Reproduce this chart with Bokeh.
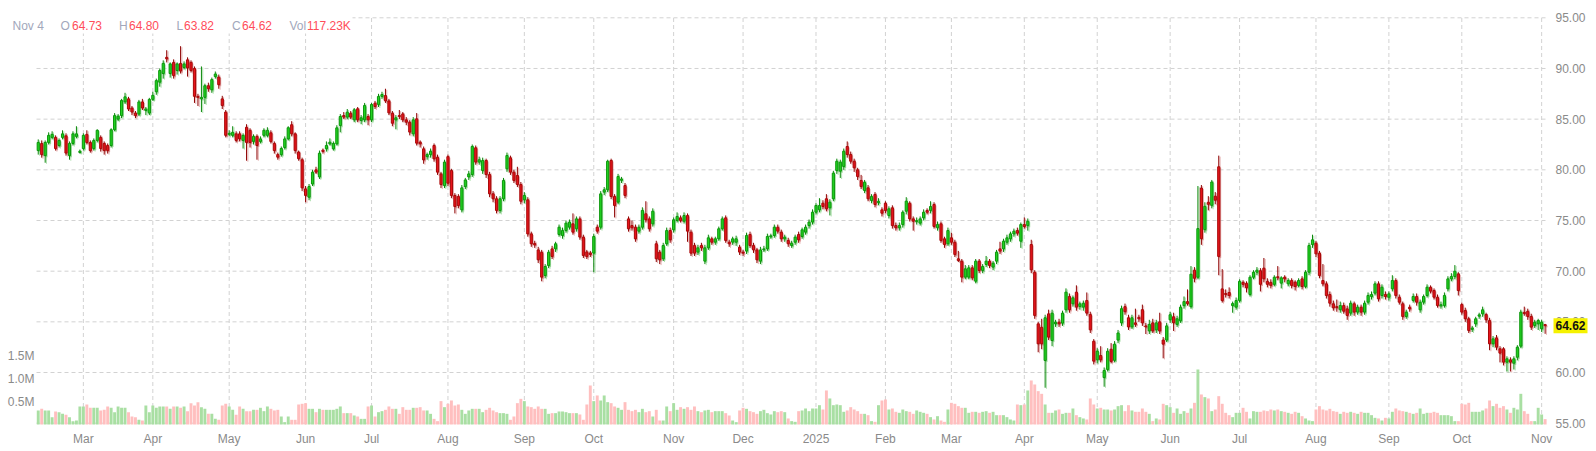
import pandas as pd
from bokeh.plotting import figure
from bokeh.models import ColumnDataSource, Range1d
from bokeh.core.properties import value
from bokeh.embed import file_html
from bokeh.resources import INLINE

FONT = "Liberation Sans"

holidays = ["2024-02-19", "2024-03-29", "2024-05-27", "2024-06-19", "2024-07-04", "2024-09-02",
            "2024-11-28", "2024-12-25", "2025-01-01", "2025-01-09", "2025-01-20", "2025-02-17",
            "2025-04-18", "2025-05-26", "2025-06-19", "2025-07-04", "2025-09-01"]
dates = [d for d in pd.bdate_range("2024-02-12", "2025-11-04") if d.strftime("%Y-%m-%d") not in holidays]

opens = [
    81.9, 82.6, 81.4, 82.7, 83.2, 83.2, 82.4, 83.2, 83.35, 81.4,
    82.6, 83.3, 81.75, 82.1, 83.5, 82.7, 82.1, 82.9, 83.2, 82.6,
    82.4, 82.4, 83.95, 85.0, 85.35, 86.7, 87.0, 86.1, 85.6, 85.5,
    86.7, 85.85, 85.6, 86.95, 87.7, 88.65, 89.5, 91.1, 89.5, 90.6,
    89.8, 90.5, 90.1, 90.85, 90.6, 90.0, 87.25, 87.0, 87.15, 88.3,
    87.9, 89.2, 89.15, 87.0, 85.7, 83.5, 83.4, 83.55, 83.55, 82.9,
    84.2, 83.9, 82.8, 83.3, 82.8, 83.4, 83.4, 83.65, 82.6, 81.5,
    81.5, 82.2, 83.05, 84.45, 83.55, 81.75, 80.99, 78.12, 77.3, 78.6,
    80.0, 79.3, 81.9, 82.07, 82.56, 82.07, 82.56, 84.37, 85.36, 85.2,
    85.59, 84.93, 86.02, 84.87, 84.93, 85.26, 84.93, 86.58, 86.45, 87.24,
    87.33, 86.8, 85.59, 84.93, 85.36, 85.52, 84.93, 84.7, 83.55, 85.03,
    82.73, 82.07, 81.3, 81.5, 82.4, 81.25, 79.6, 78.45, 81.3, 79.93,
    77.47, 77.37, 76.05, 78.35, 79.3, 79.54, 82.17, 80.76, 79.93, 80.92,
    79.54, 77.63, 77.14, 75.99, 77.14, 80.1, 81.18, 79.77, 79.44, 78.55,
    77.04, 77.04, 73.68, 72.7, 72.1, 71.87, 69.57, 70.56, 72.2, 72.2,
    73.62, 73.52, 74.01, 74.34, 74.67, 74.18, 75.16, 73.36, 71.9, 71.8,
    71.78, 74.34, 74.34, 77.8, 78.03, 80.92, 77.37, 76.81, 79.0, 78.45,
    75.16, 74.5, 74.34, 73.95, 74.34, 75.66, 75.16, 74.67, 72.7, 71.88,
    71.22, 72.7, 74.01, 74.08, 75.0, 75.26, 74.93, 75.49, 73.85, 72.53,
    71.88, 72.53, 70.99, 72.3, 73.19, 72.86, 73.19, 74.18, 75.26, 72.86,
    72.86, 72.86, 72.37, 71.88, 71.98, 73.62, 72.53, 72.1, 70.99, 72.1,
    72.2, 73.42, 73.52, 74.34, 73.85, 73.19, 73.03, 72.53, 72.86, 73.62,
    73.42, 73.85, 74.5, 74.84, 75.82, 76.05, 76.71, 77.14, 76.25, 77.14,
    79.93, 79.87, 80.33, 82.3, 81.51, 80.85, 80.0, 78.95, 77.96, 78.22,
    76.97, 77.57, 76.8, 76.05, 76.71, 75.49, 76.25, 74.5, 74.28, 74.6,
    75.92, 76.71, 75.16, 74.93, 74.74, 75.26, 75.99, 75.99, 76.58, 74.28,
    74.67, 73.19, 72.7, 73.29, 72.86, 71.22, 70.99, 69.41, 69.41, 70.33,
    69.01, 70.99, 70.07, 70.66, 70.99, 70.4, 70.99, 72.2, 72.2, 72.86,
    73.19, 73.68, 74.01, 72.96, 74.6, 74.5, 72.63, 69.9, 64.8, 64.47,
    61.19, 65.79, 63.16, 64.8, 64.97, 64.87, 66.19, 67.5, 66.78, 67.93,
    66.52, 66.45, 67.11, 65.72, 63.09, 61.25, 61.68, 59.5, 60.3, 62.3,
    61.2, 63.2, 64.9, 66.5, 65.4, 64.5, 64.9, 65.45, 66.2, 64.6,
    64.1, 64.9, 64.2, 65.0, 63.2, 63.2, 65.2, 65.5, 64.75, 65.1,
    66.6, 67.0, 66.5, 70.1, 69.4, 78.2, 74.1, 76.8, 76.5, 77.4,
    80.3, 68.25, 67.8, 67.9, 66.6, 66.45, 67.1, 68.9, 68.8, 67.7,
    69.4, 69.9, 70.05, 70.3, 69.0, 68.9, 68.7, 69.45, 68.82, 69.41,
    68.75, 69.08, 68.92, 68.59, 69.24, 68.49, 69.9, 72.63, 72.76, 71.78,
    69.08, 68.75, 67.7, 66.78, 66.5, 66.19, 66.61, 66.28, 65.86, 66.78,
    65.96, 66.45, 65.96, 66.94, 67.5, 67.83, 68.75, 67.6, 67.7, 67.43,
    68.26, 69.08, 67.43, 66.78, 65.53, 66.45, 67.11, 67.5, 66.19, 66.94,
    67.6, 68.42, 68.09, 67.43, 66.61, 66.61, 68.26, 69.24, 69.47, 69.73,
    66.71, 66.12, 65.3, 64.3, 64.8, 65.6, 65.79, 65.72, 65.13, 62.83,
    63.42, 62.34, 62.34, 61.02, 61.25, 60.92, 61.51, 62.6, 65.9, 66.05,
    65.53, 64.64, 64.8, 64.31, 64.73]

highs = [
    83.0, 82.9, 82.9, 83.7, 83.8, 83.4, 83.1, 83.9, 83.6, 82.8,
    83.8, 84.3, 82.0, 83.6, 83.9, 82.9, 83.1, 84.0, 83.4, 82.8,
    82.6, 84.1, 85.6, 85.5, 87.0, 87.6, 87.2, 86.3, 85.8, 86.9,
    87.0, 86.2, 87.1, 87.7, 89.0, 90.0, 90.8, 91.8, 90.6, 90.9,
    90.6, 92.2, 90.7, 91.1, 90.8, 90.2, 87.5, 90.2, 88.5, 88.6,
    89.1, 89.7, 89.4, 87.3, 85.9, 83.9, 84.3, 83.8, 83.8, 83.6,
    84.5, 84.1, 83.5, 83.5, 83.3, 84.1, 84.2, 83.9, 82.8, 81.7,
    82.3, 83.3, 84.3, 84.8, 83.7, 81.9, 81.2, 78.4, 78.6, 80.0,
    80.3, 81.9, 82.1, 82.8, 83.1, 82.8, 84.4, 85.5, 85.7, 86.0,
    85.8, 86.1, 86.2, 85.4, 86.6, 85.5, 86.6, 86.8, 87.5, 87.7,
    88.0, 87.0, 85.8, 85.4, 85.9, 85.7, 85.2, 84.9, 85.2, 85.6,
    82.9, 82.3, 81.7, 82.1, 82.6, 81.5, 79.8, 81.0, 81.5, 80.1,
    77.7, 77.6, 78.5, 79.2, 79.9, 82.5, 82.4, 81.3, 81.2, 81.1,
    79.8, 77.9, 77.4, 77.4, 79.2, 81.7, 81.4, 80.0, 80.3, 78.8,
    77.8, 77.3, 73.9, 73.0, 72.4, 72.1, 70.7, 72.1, 72.5, 72.9,
    74.6, 74.3, 75.0, 75.1, 75.7, 75.4, 75.4, 73.6, 72.1, 72.0,
    73.7, 74.6, 77.9, 78.3, 81.0, 81.1, 77.6, 79.6, 79.3, 78.7,
    75.4, 75.0, 74.6, 74.6, 76.3, 76.9, 75.4, 76.2, 73.0, 72.1,
    72.8, 74.3, 74.3, 75.3, 75.8, 75.5, 75.8, 75.7, 74.1, 72.8,
    72.6, 72.8, 72.6, 73.6, 73.4, 73.4, 74.4, 75.4, 75.5, 73.1,
    73.4, 73.5, 72.6, 72.1, 73.8, 73.9, 72.8, 72.3, 72.4, 72.5,
    73.7, 73.7, 74.6, 74.6, 74.1, 73.6, 73.3, 73.0, 73.6, 73.9,
    74.3, 74.6, 75.1, 76.1, 76.7, 77.2, 77.0, 77.6, 77.1, 79.9,
    81.1, 81.0, 82.1, 82.8, 81.8, 81.1, 80.2, 79.5, 79.0, 78.5,
    77.6, 77.8, 77.2, 76.3, 76.9, 76.4, 76.5, 74.8, 74.8, 76.0,
    77.3, 76.9, 75.4, 75.3, 75.4, 76.1, 76.2, 76.9, 76.8, 74.9,
    74.9, 73.4, 74.3, 73.8, 73.1, 72.0, 71.2, 70.6, 70.6, 70.6,
    71.2, 71.2, 70.7, 71.5, 71.2, 71.0, 72.1, 72.9, 73.2, 73.6,
    73.9, 74.2, 74.3, 74.8, 75.3, 75.2, 73.1, 70.1, 65.0, 65.3,
    65.7, 66.2, 66.2, 65.2, 65.3, 66.1, 68.3, 67.8, 67.6, 68.6,
    67.0, 67.1, 67.9, 66.0, 63.3, 62.4, 62.6, 60.5, 62.4, 62.9,
    63.1, 64.2, 66.6, 66.8, 65.7, 65.7, 66.3, 65.7, 66.7, 64.9,
    65.2, 65.3, 65.2, 65.9, 63.5, 64.9, 66.0, 65.9, 65.6, 66.7,
    67.5, 68.2, 70.5, 70.4, 78.4, 78.5, 76.8, 77.4, 79.0, 77.8,
    81.4, 70.2, 68.2, 68.4, 67.0, 67.4, 69.2, 69.1, 69.0, 69.6,
    70.1, 70.4, 70.3, 71.3, 69.3, 69.2, 69.6, 70.5, 69.5, 69.6,
    69.3, 69.3, 69.1, 69.3, 69.5, 70.1, 72.8, 73.6, 73.0, 72.0,
    70.7, 69.0, 68.0, 67.1, 67.2, 67.0, 66.9, 66.6, 67.1, 67.0,
    66.7, 66.7, 67.1, 67.9, 68.0, 69.0, 69.0, 68.7, 68.0, 68.0,
    69.6, 69.3, 67.7, 67.0, 66.2, 66.7, 67.8, 67.8, 67.2, 67.7,
    68.7, 68.6, 68.3, 67.7, 67.0, 67.9, 69.5, 69.8, 70.6, 69.9,
    66.9, 66.4, 65.5, 64.6, 65.5, 65.9, 66.5, 65.9, 65.4, 63.6,
    63.7, 62.6, 62.5, 61.6, 61.5, 61.6, 62.7, 66.2, 66.5, 66.3,
    65.8, 65.2, 65.3, 65.2, 64.8]

lows = [
    81.5, 81.2, 80.7, 82.5, 83.0, 81.9, 82.2, 83.0, 81.4, 81.0,
    82.4, 83.1, 81.6, 81.9, 82.5, 81.7, 81.9, 82.7, 81.8, 81.5,
    81.6, 82.2, 83.8, 84.8, 85.1, 86.5, 85.8, 85.4, 85.1, 85.3,
    85.9, 85.4, 85.4, 86.8, 87.4, 88.2, 89.0, 90.6, 89.1, 89.0,
    89.4, 89.5, 89.9, 89.2, 89.6, 86.6, 86.3, 85.7, 86.5, 87.7,
    87.6, 89.0, 88.0, 86.0, 83.2, 83.3, 83.2, 82.7, 82.8, 82.1,
    80.9, 82.2, 82.5, 81.0, 82.6, 83.2, 83.2, 82.6, 81.6, 81.0,
    81.3, 82.0, 82.9, 83.3, 81.6, 80.9, 77.9, 76.8, 77.0, 78.4,
    79.6, 79.1, 81.6, 81.8, 82.4, 81.9, 82.4, 83.7, 85.0, 85.0,
    85.0, 84.7, 84.7, 84.5, 84.7, 84.4, 84.7, 86.0, 86.2, 87.0,
    86.6, 85.4, 84.3, 84.0, 85.0, 84.7, 84.4, 83.4, 83.3, 82.4,
    82.2, 80.6, 81.0, 81.2, 80.8, 79.5, 78.2, 78.2, 78.4, 77.2,
    75.7, 76.2, 75.8, 78.1, 79.0, 79.3, 80.5, 80.5, 79.6, 79.2,
    77.3, 76.8, 75.7, 75.7, 76.9, 79.8, 79.5, 78.7, 78.3, 76.6,
    76.7, 73.4, 72.4, 72.3, 70.8, 69.0, 69.3, 70.3, 71.2, 71.9,
    73.4, 73.2, 73.8, 74.1, 73.6, 73.9, 73.1, 71.3, 71.2, 71.4,
    69.9, 73.7, 74.1, 77.5, 77.8, 77.1, 75.3, 76.6, 78.7, 77.2,
    73.9, 74.0, 72.9, 73.7, 74.1, 74.8, 73.9, 74.4, 70.9, 70.7,
    71.0, 72.5, 72.8, 73.8, 74.8, 74.8, 74.7, 72.9, 71.5, 71.5,
    71.6, 72.0, 70.7, 72.1, 72.6, 72.6, 73.0, 74.0, 72.8, 72.4,
    72.6, 72.5, 71.6, 71.5, 71.7, 72.3, 71.8, 70.8, 70.7, 71.9,
    72.0, 73.2, 73.3, 73.7, 72.9, 72.9, 72.4, 72.3, 72.6, 72.8,
    73.2, 73.6, 74.2, 74.6, 75.6, 75.8, 76.1, 75.9, 75.5, 76.9,
    79.6, 79.2, 80.0, 81.2, 80.6, 79.8, 79.0, 78.1, 77.7, 76.9,
    76.7, 76.3, 76.5, 75.4, 75.7, 75.2, 74.2, 74.0, 74.0, 74.3,
    75.6, 74.9, 74.0, 74.6, 74.5, 75.0, 75.6, 75.7, 74.2, 74.0,
    72.8, 72.3, 72.5, 72.6, 71.4, 70.9, 68.9, 69.2, 69.2, 69.1,
    68.8, 69.8, 69.8, 70.4, 70.3, 70.1, 70.7, 71.7, 71.9, 72.6,
    72.9, 73.4, 73.5, 72.3, 74.2, 74.0, 69.8, 65.3, 62.0, 62.3,
    58.5, 63.2, 62.6, 64.5, 64.5, 64.6, 65.9, 65.9, 66.5, 66.1,
    66.2, 66.1, 65.6, 63.9, 60.8, 60.9, 61.0, 58.6, 60.1, 60.9,
    61.0, 62.9, 64.6, 65.7, 64.2, 64.3, 64.5, 65.0, 64.6, 63.8,
    63.8, 63.9, 63.9, 63.8, 61.4, 63.0, 64.9, 64.1, 64.5, 64.9,
    66.3, 66.6, 66.3, 68.9, 69.2, 72.6, 73.8, 76.0, 76.2, 76.6,
    69.6, 66.9, 67.4, 67.3, 65.9, 66.2, 66.9, 68.4, 67.9, 67.5,
    69.2, 69.6, 68.0, 68.9, 68.4, 68.3, 68.5, 69.1, 68.3, 68.9,
    68.5, 68.3, 68.1, 68.4, 68.2, 68.3, 69.6, 72.3, 71.4, 69.3,
    68.5, 67.3, 66.5, 66.1, 66.0, 65.9, 65.8, 65.2, 65.6, 65.6,
    65.7, 65.6, 65.7, 66.7, 67.2, 67.6, 67.0, 67.3, 67.2, 67.1,
    68.0, 67.3, 66.7, 65.2, 65.3, 66.0, 66.9, 66.6, 65.9, 66.7,
    67.4, 67.8, 67.2, 66.4, 66.3, 66.4, 68.0, 69.0, 69.2, 67.6,
    65.7, 65.0, 63.9, 64.0, 64.5, 65.3, 65.5, 64.9, 62.2, 62.5,
    62.2, 61.0, 60.7, 60.1, 60.1, 60.3, 61.2, 62.4, 65.6, 65.2,
    64.2, 64.4, 64.2, 64.0, 63.82]

closes = [
    82.7, 81.5, 82.7, 83.4, 83.5, 82.1, 82.9, 83.55, 81.65, 82.6,
    83.55, 83.55, 81.8, 83.4, 82.7, 81.9, 82.9, 83.9, 82.1, 81.9,
    81.9, 83.95, 85.35, 85.3, 86.85, 87.2, 86.0, 85.7, 85.35, 86.7,
    86.1, 86.0, 86.95, 87.35, 88.8, 89.8, 90.5, 90.95, 90.45, 89.3,
    90.45, 89.75, 90.45, 90.05, 89.8, 87.25, 87.15, 87.15, 88.3, 88.0,
    88.9, 89.45, 88.4, 86.35, 83.4, 83.6, 83.7, 82.9, 83.05, 83.4,
    82.7, 82.7, 83.3, 82.4, 83.05, 83.9, 83.9, 82.8, 81.9, 81.25,
    82.1, 83.05, 84.15, 83.55, 81.9, 81.1, 78.22, 77.47, 78.35, 79.77,
    79.77, 81.64, 81.85, 82.4, 82.73, 82.6, 84.14, 85.26, 85.2, 85.69,
    85.2, 85.92, 84.93, 85.13, 86.35, 84.93, 86.45, 86.25, 87.24, 87.43,
    86.8, 85.62, 84.6, 85.13, 85.26, 84.93, 84.7, 83.72, 84.93, 82.63,
    82.56, 80.98, 81.5, 81.84, 81.08, 79.77, 78.55, 80.76, 78.68, 77.47,
    76.38, 76.48, 78.22, 79.0, 79.6, 82.3, 80.76, 80.99, 80.92, 79.54,
    77.63, 77.14, 75.99, 77.14, 78.95, 81.41, 79.77, 78.95, 78.55, 76.9,
    77.47, 73.68, 72.7, 72.63, 71.12, 69.41, 70.46, 71.87, 71.45, 72.7,
    74.34, 74.01, 74.74, 74.84, 73.85, 75.16, 73.36, 71.55, 71.45, 71.65,
    73.42, 73.95, 77.63, 78.03, 80.85, 77.37, 76.48, 79.34, 79.05, 77.47,
    74.18, 74.28, 73.19, 74.34, 75.99, 75.07, 74.18, 75.92, 71.22, 71.12,
    72.53, 74.01, 73.09, 75.07, 75.4, 75.0, 75.49, 73.95, 71.78, 71.78,
    72.3, 72.3, 72.3, 73.29, 72.86, 73.19, 74.18, 75.16, 73.03, 72.7,
    73.19, 73.19, 71.88, 71.78, 73.52, 72.53, 72.1, 71.12, 72.1, 72.2,
    73.42, 73.45, 74.34, 73.95, 73.19, 73.36, 72.7, 72.76, 73.36, 73.09,
    74.08, 74.34, 74.84, 75.82, 76.48, 76.48, 76.38, 76.15, 76.81, 79.67,
    80.85, 80.76, 81.84, 81.51, 80.85, 80.2, 79.34, 78.35, 78.78, 77.14,
    77.37, 76.58, 76.85, 75.72, 75.99, 76.15, 74.5, 74.28, 74.5, 75.82,
    76.91, 75.16, 74.93, 74.95, 75.16, 75.82, 75.82, 76.38, 74.41, 74.6,
    73.03, 72.63, 74.01, 72.86, 71.65, 71.05, 69.41, 70.23, 70.33, 69.34,
    70.99, 70.07, 70.46, 70.99, 70.56, 70.79, 71.88, 71.98, 72.96, 73.29,
    73.68, 73.95, 73.75, 74.6, 74.41, 74.93, 70.13, 65.63, 62.83, 62.83,
    65.4, 63.49, 65.86, 64.97, 64.8, 65.86, 67.93, 66.19, 67.37, 66.45,
    66.78, 66.84, 65.86, 64.21, 61.12, 62.11, 61.25, 60.2, 62.1, 61.1,
    62.8, 63.9, 66.3, 66.0, 64.5, 65.4, 64.75, 65.3, 64.9, 64.5,
    64.75, 64.1, 64.9, 64.1, 62.8, 64.6, 65.7, 64.9, 65.3, 66.45,
    67.0, 66.8, 69.7, 69.3, 74.2, 73.2, 76.4, 76.6, 78.8, 77.0,
    71.45, 67.1, 67.7, 67.6, 66.8, 67.1, 69.0, 68.7, 68.35, 69.4,
    69.9, 70.1, 68.7, 69.25, 68.7, 68.6, 69.4, 69.35, 69.34, 69.24,
    69.08, 68.59, 68.49, 69.08, 68.49, 69.9, 72.53, 73.09, 71.71, 69.57,
    68.75, 67.6, 66.84, 66.38, 66.4, 66.61, 66.05, 65.63, 66.84, 65.96,
    66.45, 65.96, 66.84, 67.6, 67.7, 68.75, 67.27, 68.42, 67.5, 67.76,
    69.08, 67.6, 66.94, 65.53, 65.96, 66.28, 67.5, 66.94, 66.94, 67.5,
    68.42, 68.03, 67.43, 66.61, 66.65, 67.6, 69.24, 69.47, 70.0, 68.09,
    65.96, 65.3, 64.15, 64.35, 65.3, 65.65, 66.19, 65.2, 62.83, 63.32,
    62.5, 61.91, 61.02, 61.35, 61.02, 61.35, 62.5, 65.96, 65.85, 65.53,
    64.48, 64.97, 65.13, 64.97, 64.62]

volume_k = [
    305, 341, 305, 305, 160, 283, 268, 232, 210, 160,
    73, 87, 392, 392, 435, 363, 363, 363, 305,
    319, 392, 363, 268, 392, 363, 363, 268, 174, 160,
    102, 87, 413, 268, 413, 363, 392, 392, 392, 341,
    392, 392, 363, 392, 290, 464, 413, 486, 377, 341,
    232, 232, 123, 102, 413, 450, 392, 319, 210,
    392, 341, 290, 290, 319, 319, 363, 290, 392, 341,
    305, 319, 174, 51, 174, 102, 102, 435, 450, 464,
    341, 341, 268, 341, 319, 319, 319, 319, 341, 392,
    247, 247, 247, 196, 174, 123, 123, 392, 413,
    174, 268, 290, 319, 392, 341, 341, 232, 377, 319,
    319, 363, 363, 377, 305, 305, 232, 123, 73, 508,
    377, 450, 522, 413, 435, 319, 232, 305, 341, 341,
    341, 268, 319, 363, 305, 268, 247, 247, 232,
    102, 174, 464, 558, 508, 392, 377, 341, 392, 341,
    341, 232, 247, 247, 283, 283, 268, 247, 247, 247,
    218, 102, 435, 848, 508, 631, 522, 631, 486, 464,
    392, 363, 319, 486, 319, 290, 319, 268, 341, 268,
    290, 174, 319, 87, 87, 392, 290, 464, 319, 377,
    341, 377, 319, 392, 290, 268, 305, 319, 268, 290,
    290, 290, 247, 196, 87, 51, 305, 363, 341,
    290, 268, 232, 290, 319, 247, 218, 290, 268, 290, 268,
    131, 73, 58, 290, 305, 348, 290, 348, 348, 420,
    326, 740, 566, 420, 435, 420, 276, 305, 377, 326,
    290, 232, 232, 203, 73, 58, 420, 522, 544, 326,
    348, 276, 254, 326, 290, 276, 232, 305, 276, 254,
    232, 160, 109, 181, 87, 58, 326, 471, 450, 399,
    363, 363, 254, 276, 276, 254, 276, 290, 254, 276,
    203, 203, 203, 160, 109, 87, 435, 420, 435, 740,
    957, 870, 725, 667, 435, 254, 254, 305, 326, 232,
    254, 254, 348, 203, 160, 131, 109, 566, 435, 348,
    363, 326, 326, 305, 326, 399, 420, 290, 420, 305,
    276, 276, 348, 276, 232, 73, 131, 109, 450, 420,
    377, 254, 348, 232, 290, 254, 348, 471, 1196, 653,
    595, 566, 290, 326, 616, 450, 254, 203, 160, 254,
    254, 363, 276, 131, 290, 276, 276, 305, 290, 326,
    305, 326, 290, 276, 254, 232, 276, 254, 181, 131,
    87, 73, 326, 399, 326, 305, 341, 290, 276, 232,
    276, 254, 276, 254, 232, 276, 254, 254, 203, 145,
    131, 87, 145, 131, 276, 348, 305, 290, 276, 254,
    232, 254, 348, 232, 254, 254, 276, 254, 203, 203,
    203, 181, 73, 73, 450, 435, 471, 276, 276, 276,
    305, 348, 522, 399, 450, 363, 399, 326, 254, 363,
    326, 667, 290, 232, 73, 73, 363, 218, 117]

legend_date = "Nov 4"
legend_keys = ["O", "H", "L", "C", "Vol"]
legend_vals = ["64.73", "64.80", "63.82", "64.62", "117.23K"]
last_price = "64.62"
price_ticks = [55, 60, 65, 70, 75, 80, 85, 90, 95]
vol_ticks_m = [0.5, 1.0, 1.5]

n = len(dates)
assert len(opens) == n and len(highs) == n and len(lows) == n and len(closes) == n and len(volume_k) == n

month_idx, month_lab = [], []
for i, d in enumerate(dates):
    if i > 0 and d.month != dates[i - 1].month:
        month_idx.append(i)
        month_lab.append("2025" if d.month == 1 else d.strftime("%b"))

# ---- page geometry (pixels) -> data helpers -------------------------------------------
W, H = 1588, 450
PX, PY = 3.4721, 10.135          # px per trading day, px per price unit
VPX = 46.0                       # px per 1M volume
def px2x(page_x):
    return (page_x - 36.0) / PX - 0.5
def py2p(page_y):
    return 95.0 - (page_y - 17.3) / PY

GREEN_FILL, GREEN_LINE, GREEN_WICK, GREEN_SH = "#22d422", "#0b960b", "#0a880a", "#6cc66c"
RED_FILL, RED_LINE, RED_WICK, RED_SH = "#e8141c", "#a80808", "#8e0000", "#cf7070"
VOL_G, VOL_R = "#a9dfa3", "#ffbfbf"
GRID = "#d2d2d2"
AX_TXT = "#8a8a8a"
LEG_KEY, LEG_VAL = "#a2a7bb", "#ff4d5a"

up = [c >= o for o, c in zip(opens, closes)]
src = ColumnDataSource(dict(
    x=list(range(n)),
    xs=[i + 0.38 for i in range(n)],
    h=highs, l=lows,
    bt=[max(o, c) + (0.04 if abs(o - c) < 0.08 else 0) for o, c in zip(opens, closes)],
    bb=[min(o, c) - (0.04 if abs(o - c) < 0.08 else 0) for o, c in zip(opens, closes)],
    sbt=[max(o, c) - 0.1 for o, c in zip(opens, closes)],
    sbb=[min(o, c) - 0.16 for o, c in zip(opens, closes)],
    sh=[v - 0.1 for v in highs], sl=[v - 0.1 for v in lows],
    vol=[v / 1000.0 for v in volume_k],
    fill=[GREEN_FILL if u else RED_FILL for u in up],
    line=[GREEN_LINE if u else RED_LINE for u in up],
    wick=[GREEN_WICK if u else RED_WICK for u in up],
    shc=[GREEN_SH if u else RED_SH for u in up],
    vcol=[VOL_G if u else VOL_R for u in up],
))

p = figure(width=W, height=H, x_range=Range1d(px2x(0), px2x(W)), y_range=Range1d(py2p(H), py2p(0)),
           x_axis_type=None, y_axis_type=None, output_backend="svg", toolbar_location=None,
           min_border=0, min_border_left=0, min_border_right=0, min_border_top=0, min_border_bottom=0)
p.outline_line_color = None
p.background_fill_color = "white"
p.border_fill_color = "white"
p.extra_y_ranges = {"vol": Range1d(-(H - 424.0) / VPX, 424.0 / VPX)}

# ---- grid ------------------------------------------------------------------------------
p.segment(x0=[px2x(36)] * len(price_ticks), x1=[px2x(1545)] * len(price_ticks),
          y0=price_ticks, y1=price_ticks, line_color=GRID, line_dash="4 3", line_width=1)
p.segment(x0=month_idx, x1=month_idx, y0=[py2p(17.5)] * len(month_idx), y1=[py2p(424)] * len(month_idx),
          line_color=GRID, line_dash="4 3", line_width=1)
# legend background
p.quad(left=[px2x(8)], right=[px2x(352)], bottom=[py2p(33)], top=[py2p(16)],
       fill_color="white", line_color=None)

# ---- volume ----------------------------------------------------------------------------
p.vbar(x="x", width=0.84, top="vol", bottom=0, y_range_name="vol", fill_color="vcol",
       line_color=None, source=src)

# ---- candles (soft shadow + body) ------------------------------------------------------
p.segment(x0="xs", x1="xs", y0="sl", y1="sh", line_color="shc", line_alpha=0.55, line_width=1, source=src)
p.vbar(x="xs", width=0.64, top="sbt", bottom="sbb", fill_color="shc", fill_alpha=0.6,
       line_color=None, source=src)
p.segment(x0="x", x1="x", y0="l", y1="h", line_color="wick", line_width=1, source=src)
p.vbar(x="x", width=0.62, top="bt", bottom="bb", fill_color="fill", line_color="line",
       line_width=1, source=src)

# ---- axis texts ------------------------------------------------------------------------
txt = dict(text_font=value(FONT), text_font_size="12px")
p.text(x=[px2x(1555)] * len(price_ticks), y=price_ticks, text=["%.2f" % t for t in price_ticks],
       text_align="left", text_baseline="middle", text_color=AX_TXT, **txt)
p.text(x=month_idx, y=[py2p(438)] * len(month_idx), text=month_lab,
       text_align="center", text_baseline="middle", text_color=AX_TXT, **txt)
p.text(x=[px2x(34)] * len(vol_ticks_m), y=vol_ticks_m, y_range_name="vol",
       text=["%.1fM" % t for t in vol_ticks_m],
       text_align="right", text_baseline="middle", text_color=AX_TXT, **txt)

# ---- legend row ------------------------------------------------------------------------
ly = py2p(25)
key_px = [60, 118.5, 176, 231.5, 289]
val_px = [71.5, 128.5, 183.5, 241.5, 306.5]
p.text(x=[px2x(12)] + [px2x(v) for v in key_px], y=[ly] * 6, text=[legend_date] + legend_keys,
       text_align="left", text_baseline="middle", text_color=LEG_KEY, **txt)
p.text(x=[px2x(v) for v in val_px], y=[ly] * 5, text=legend_vals,
       text_align="left", text_baseline="middle", text_color=LEG_VAL, **txt)

# ---- last price tag --------------------------------------------------------------------
p.rect(x=[px2x(1570)], y=[closes[-1]], width=34, height=15, width_units="screen", height_units="screen",
       fill_color="#f5f200", line_color=None)
p.text(x=[px2x(1570)], y=[closes[-1]], text=[last_price], text_align="center", text_baseline="middle",
       text_color="#111111", text_font_style="bold", **txt)

open("out.html", "w").write(file_html(p, INLINE))
